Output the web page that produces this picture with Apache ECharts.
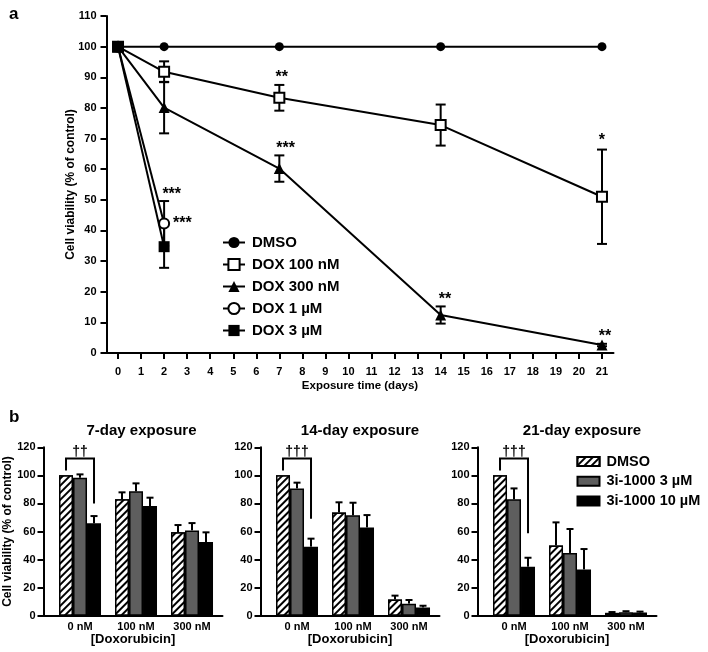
<!DOCTYPE html>
<html><head><meta charset="utf-8">
<script src="https://cdn.jsdelivr.net/npm/echarts@6/dist/echarts.min.js"></script>
<style>html,body{margin:0;padding:0;background:#fff}#c{width:708px;height:652px}</style>
</head><body><div id="c"></div>
<script>
// ---------- Panel a data ----------
const days = [0, 2, 7, 14, 21];
const dayTicks = [0,1,2,3,4,5,6,7,8,9,10,11,12,13,14,15,16,17,18,19,20,21];
const dmso = [100, 100, 100, 100, 100];
const dox100 = [100, 91.8, 83.3, 74.4, 51.0];
const dox100Err = [0, 3.4, 4.2, 6.7, 15.4];
const dox300 = [100, 80.1, 60.2, 12.4, 2.6];
const dox300Err = [0, 8.4, 4.3, 2.8, 0.4];
const dox1 = [100, 42.3];
const dox1Err = [0, 7.3];
const dox3 = [100, 34.7];
const dox3Err = [0, 6.9];
const lineNames = ['DMSO', 'DOX 100 nM', 'DOX 300 nM', 'DOX 1 µM', 'DOX 3 µM'];
// significance marks: [day, value, text]
const starsA = [[7.1, 90, '**'], [7.27, 66.8, '***'], [2.33, 51.6, '***'], [2.79, 42.3, '***'], [14.19, 17.5, '**'], [21, 69.3, '*'], [21.13, 5.3, '**']];

// ---------- Panel b data ----------
const doxGroups = ['0 nM', '100 nM', '300 nM'];
const barNames = ['DMSO', '3i-1000 3 µM', '3i-1000 10 µM'];
const panelTitles = ['7-day exposure', '14-day exposure', '21-day exposure'];
const day7Values = [[100, 82.9, 59.4], [98.3, 88.6, 60.8], [65.8, 78.1, 52.5]];
const day7Errors = [[0, 5.0, 5.2], [2.4, 5.7, 5.2], [5.2, 6.0, 6.9]];
const day14Values = [[100, 73.6, 11.6], [90.7, 71.5, 8.6], [49.2, 62.9, 5.9]];
const day14Errors = [[0, 7.2, 2.7], [4.1, 9.0, 2.6], [5.7, 8.8, 1.2]];
const day21Values = [[100, 50.1, 2.0], [82.9, 44.7, 2.5], [34.9, 33.0, 2.3]];
const day21Errors = [[0, 16.4, 0.6], [7.8, 17.1, 0.7], [6.4, 14.5, 0.6]];
const daggers = ['††', '†††', '†††'];
// bracket: [top, left leg bottom, right leg bottom, label value]
const brackets = [[112, 103.5, 80, 116.5], [112, 103.5, 69, 116.5], [112, 103.5, 58.7, 116.5]];

const FONT = 'Liberation Sans, Arial, sans-serif';
const BAR_W = 14;
const PANEL_LEFT = [43.5, 260.5, 477.5];
const PANEL_W = 179;
const TITLE_X = [136.5, 355, 577];
const BAR_PREFIX = 'b:';

const chart = echarts.init(document.getElementById('c'), null, {renderer: 'canvas'});

const axisLine = {show: true, onZero: false, lineStyle: {color: '#000', width: 2}};
const axisTick = {show: true, length: 6, lineStyle: {color: '#000', width: 2}};
const lblStyle = {color: '#000', fontFamily: FONT, fontWeight: 'bold', fontSize: 11};

function errBarsBoth(params, api) {
  const x = api.value(0), lo = api.value(1), hi = api.value(2);
  if (hi - lo <= 0) return null;
  const a = api.coord([x, lo]), b = api.coord([x, hi]);
  const st = {stroke: '#000', lineWidth: 2};
  const c = 5;
  return {type: 'group', children: [
    {type: 'line', shape: {x1: a[0], y1: a[1], x2: b[0], y2: b[1]}, style: st},
    {type: 'line', shape: {x1: a[0] - c, y1: a[1], x2: a[0] + c, y2: a[1]}, style: st},
    {type: 'line', shape: {x1: b[0] - c, y1: b[1], x2: b[0] + c, y2: b[1]}, style: st}
  ]};
}

const grids = [{left: 106.5, right: 94.5, top: 16, bottom: 299, containLabel: false}];
const xAxes = [{
  gridIndex: 0, type: 'value', min: -0.5, max: 21.5,
  axisLine, axisTick: Object.assign({customValues: dayTicks}, axisTick),
  axisLabel: Object.assign({customValues: dayTicks, margin: 13}, lblStyle),
  splitLine: {show: false},
  name: 'Exposure time (days)', nameLocation: 'middle', nameGap: 27, nameMoveOverlap: false,
  nameTextStyle: {color: '#000', fontFamily: FONT, fontWeight: 'bold', fontSize: 11.5}
}];
const yAxes = [{
  gridIndex: 0, type: 'value', min: 0, max: 110, interval: 10,
  axisLine, axisTick, axisLabel: Object.assign({margin: 10}, lblStyle), splitLine: {show: false},
  name: 'Cell viability (% of control)', nameLocation: 'middle', nameGap: 30, nameMoveOverlap: false,
  nameTextStyle: {color: '#000', fontFamily: FONT, fontWeight: 'bold', fontSize: 12}
}];

const lineStyle = {color: '#000', width: 2};
const series = [];
const lineData = [dmso, dox100, dox300, dox1, dox3];
const lineErr = [null, dox100Err, dox300Err, dox1Err, dox3Err];
const symbols = [
  {symbol: 'circle', symbolSize: 9, itemStyle: {color: '#000', borderWidth: 0}},
  {symbol: 'rect', symbolSize: 10, itemStyle: {color: '#fff', borderColor: '#000', borderWidth: 2}},
  {symbol: 'triangle', symbolSize: 11, itemStyle: {color: '#000', borderWidth: 0}},
  {symbol: 'circle', symbolSize: 10, itemStyle: {color: '#fff', borderColor: '#000', borderWidth: 2}},
  {symbol: 'rect', symbolSize: 11, itemStyle: {color: '#000', borderWidth: 0}}
];
lineData.forEach((vals, i) => {
  series.push(Object.assign({
    name: lineNames[i], type: 'line', xAxisIndex: 0, yAxisIndex: 0, z: 3,
    data: vals.map((v, j) => [days[j], v]), lineStyle, showSymbol: true, animation: false
  }, symbols[i]));
  if (lineErr[i]) {
    series.push({type: 'custom', xAxisIndex: 0, yAxisIndex: 0, z: 2, animation: false, silent: true,
      renderItem: errBarsBoth,
      data: vals.map((v, j) => [days[j], v - lineErr[i][j], v + lineErr[i][j]])});
  }
});
series.push({type: 'custom', xAxisIndex: 0, yAxisIndex: 0, z: 4, animation: false, silent: true,
  renderItem: function (params, api) {
    const p = api.coord([api.value(0), api.value(1)]);
    return {type: 'text', x: p[0], y: p[1], style: {text: starsA[params.dataIndex][2], font: 'bold 16px ' + FONT, fill: '#000', align: 'center', verticalAlign: 'middle'}};
  },
  data: starsA.map(s => [s[0], s[1]])});

// ---------- bar panels ----------
const panelValues = [day7Values, day14Values, day21Values];
const panelErrors = [day7Errors, day14Errors, day21Errors];
const barStyles = [
  {color: '#fff', borderColor: '#000', borderWidth: 1.5,
   decal: {symbol: 'rect', symbolSize: 1, dashArrayX: [1, 0], dashArrayY: [1.6, 2.6], rotation: -Math.PI / 4, color: '#000', backgroundColor: '#fff'}},
  {color: '#5e5e5e', borderColor: '#000', borderWidth: 1.5},
  {color: '#000', borderColor: '#000', borderWidth: 1.5}
];
const titles = [
  {text: 'a', left: 4, top: 1, textStyle: {fontFamily: FONT, fontWeight: 'bold', fontSize: 17, color: '#000'}},
  {text: 'b', left: 4, top: 404, textStyle: {fontFamily: FONT, fontWeight: 'bold', fontSize: 17, color: '#000'}}
];
for (let k = 0; k < 3; k++) {
  const gi = k + 1;
  grids.push({left: PANEL_LEFT[k], width: PANEL_W, top: 447.3, height: 168.4, containLabel: false});
  titles.push({text: panelTitles[k], left: TITLE_X[k], top: 418, textAlign: 'center',
    textStyle: {fontFamily: FONT, fontWeight: 'bold', fontSize: 15, color: '#000'}});
  const minX = -0.652;
  xAxes.push({
    gridIndex: gi, type: 'value', min: minX, max: minX + PANEL_W / 56,
    axisLine, axisTick: {show: false},
    axisLabel: Object.assign({customValues: [0, 1, 2], margin: 6, formatter: v => doxGroups[Math.round(v)]}, lblStyle),
    splitLine: {show: false},
    name: '[Doxorubicin]', nameLocation: 'middle', nameGap: 17, nameMoveOverlap: false,
    nameTextStyle: {color: '#000', fontFamily: FONT, fontWeight: 'bold', fontSize: 13}
  });
  yAxes.push(Object.assign({
    gridIndex: gi, type: 'value', min: 0, max: 120, interval: 20,
    axisLine, axisTick, axisLabel: Object.assign({margin: 8}, lblStyle), splitLine: {show: false}
  }, k === 0 ? {name: 'Cell viability (% of control)', nameLocation: 'middle', nameGap: 30, nameMoveOverlap: false,
    nameTextStyle: {color: '#000', fontFamily: FONT, fontWeight: 'bold', fontSize: 12}} : {}));
  const vals = panelValues[k], errs = panelErrors[k];
  for (let s = 0; s < 3; s++) {
    series.push({
      name: BAR_PREFIX + barNames[s], type: 'bar', xAxisIndex: gi, yAxisIndex: gi, barWidth: BAR_W, barGap: '0%',
      itemStyle: barStyles[s], animation: false, z: 2,
      data: vals[s].map((v, j) => [j, v])
    });
  }
  for (let s = 0; s < 3; s++) {
    const off = (s - 1) * BAR_W;
    series.push({type: 'custom', xAxisIndex: gi, yAxisIndex: gi, z: 3, animation: false, silent: true,
      renderItem: function (params, api) {
        const x = api.value(0), v = api.value(1), e = api.value(2);
        if (e <= 0) return null;
        const a = api.coord([x, v]), b = api.coord([x, v + e]);
        const st = {stroke: '#000', lineWidth: 2};
        return {type: 'group', children: [
          {type: 'line', shape: {x1: a[0] + off, y1: a[1], x2: b[0] + off, y2: b[1]}, style: st},
          {type: 'line', shape: {x1: b[0] + off - 3.5, y1: b[1], x2: b[0] + off + 3.5, y2: b[1]}, style: st}
        ]};
      },
      data: vals[s].map((v, j) => [j, v, errs[s][j]])});
  }
  // bracket with daggers
  const br = brackets[k];
  series.push({type: 'custom', xAxisIndex: gi, yAxisIndex: gi, z: 4, animation: false, silent: true,
    renderItem: function (params, api) {
      const c = api.coord([0, br[0]]);
      const l = c[0] - BAR_W, r = c[0] + BAR_W;
      const yl = api.coord([0, br[1]])[1], yr = api.coord([0, br[2]])[1];
      const yt = api.coord([0, br[3]])[1];
      return {type: 'group', children: [
        {type: 'polyline', shape: {points: [[l, yl], [l, c[1]], [r, c[1]], [r, yr]]}, style: {stroke: '#000', lineWidth: 2, fill: null}},
        {type: 'text', x: c[0], y: yt, style: {text: daggers[k], font: 'bold 14px ' + FONT, fill: '#000', align: 'center', verticalAlign: 'middle'}}
      ]};
    },
    data: [[0, br[0]]]});
}

const option = {
  backgroundColor: '#fff',
  animation: false,
  title: titles,
  grid: grids, xAxis: xAxes, yAxis: yAxes,
  legend: [
    {data: lineNames, orient: 'vertical', left: 217, top: 230, itemWidth: 22, itemHeight: 14, itemGap: 7,
     textStyle: {fontFamily: FONT, fontWeight: 'bold', fontSize: 15, color: '#000', padding: [0, 0, 0, 2]}, selectedMode: false},
    {data: barNames.map(n => ({name: BAR_PREFIX + n, icon: 'rect'})), orient: 'vertical', left: 571.5, top: 449, itemWidth: 22, itemHeight: 9, itemGap: 4.7,
     formatter: n => n.slice(BAR_PREFIX.length),
     textStyle: {fontFamily: FONT, fontWeight: 'bold', fontSize: 14.5, color: '#000', padding: [0, 0, 0, 2]}, selectedMode: false}
  ],
  series
};
chart.setOption(option);
</script></body></html>
